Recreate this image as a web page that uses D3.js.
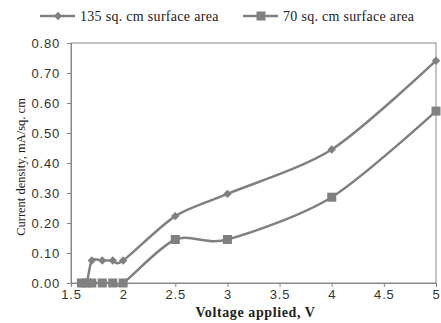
<!DOCTYPE html>
<html>
<head>
<meta charset="utf-8">
<script src="https://cdn.jsdelivr.net/npm/d3@7"></script>
<style>
  body { margin: 0; background: #fff; }
  svg { font-family: "Liberation Serif", "Times New Roman", serif; }
  .axis text { font-size: 13px; fill: #333; letter-spacing: 0.8px; }
  .axis path, .axis line { stroke: #888; }
</style>
</head>
<body>
<svg id="chart" width="441" height="323"></svg>
<script>
// Data
const voltage135 = [1.6, 1.65, 1.7, 1.8, 1.9, 2.0, 2.5, 3, 4, 5];
const current135 = [0, 0, 0.075, 0.075, 0.075, 0.075, 0.223, 0.297, 0.445, 0.741];
const voltage70 = [1.6, 1.65, 1.7, 1.8, 1.9, 2.0, 2.5, 3, 4, 5];
const current70 = [0, 0, 0, 0, 0, 0, 0.145, 0.145, 0.286, 0.573];
const xTicks = [1.5, 2, 2.5, 3, 3.5, 4, 4.5, 5];
const yTicks = [0, 0.1, 0.2, 0.3, 0.4, 0.5, 0.6, 0.7, 0.8];
const seriesNames = ['135 sq. cm surface area', '70 sq. cm surface area'];

const margin = {top: 43, right: 5, bottom: 40, left: 71};
const width = 441 - margin.left - margin.right;
const height = 323 - margin.top - margin.bottom;
const grey = '#808080';

const svg = d3.select('#chart');
const chart = svg.append('g')
    .attr('transform', `translate(${margin.left},${margin.top})`);

const xScale = d3.scaleLinear().domain([1.5, 5]).range([0, width]);
const yScale = d3.scaleLinear().domain([0, 0.8]).range([height, 0]);

// frame
chart.append('rect')
    .attr('width', width).attr('height', height)
    .attr('fill', 'none').attr('stroke', '#888');

chart.append('g')
    .attr('class', 'axis')
    .attr('transform', `translate(0,${height})`)
    .call(d3.axisBottom(xScale).tickValues(xTicks).tickFormat(d3.format('')).tickSizeOuter(0).tickSize(4).tickPadding(3));

chart.append('g')
    .attr('class', 'axis')
    .call(d3.axisLeft(yScale).tickValues(yTicks).tickFormat(d3.format('.2f')).tickSizeOuter(0).tickSize(4).tickPadding(7));

const line = d3.line()
    .x(d => xScale(d[0]))
    .y(d => yScale(d[1]))
    .curve(d3.curveCardinal.tension(0.15));

const data135 = voltage135.map((v, i) => [v, current135[i]]);
const data70 = voltage70.map((v, i) => [v, current70[i]]);

[data135, data70].forEach(data => {
  chart.append('path')
      .datum(data)
      .attr('d', line)
      .attr('fill', 'none')
      .attr('stroke', grey)
      .attr('stroke-width', 2.5);
});

const diamond = d3.symbol().type(d3.symbolDiamond2).size(45);

chart.selectAll('.diamond')
    .data(data135)
  .join('path')
    .attr('class', 'diamond')
    .attr('d', diamond)
    .attr('transform', d => `translate(${xScale(d[0])},${yScale(d[1])})`)
    .attr('fill', grey);

chart.selectAll('.square')
    .data(data70)
  .join('rect')
    .attr('class', 'square')
    .attr('x', d => xScale(d[0]) - 4.5)
    .attr('y', d => yScale(d[1]) - 4.5)
    .attr('width', 9).attr('height', 9)
    .attr('fill', grey);

// axis titles
svg.append('text')
    .attr('x', margin.left + width / 2 + 2)
    .attr('y', 317)
    .attr('text-anchor', 'middle')
    .attr('font-weight', 'bold')
    .attr('font-size', 14)
    .attr('letter-spacing', 0.6)
    .attr('fill', '#222')
    .text('Voltage applied, V');

svg.append('text')
    .attr('transform', `translate(25,${margin.top + height / 2 + 4}) rotate(-90)`)
    .attr('text-anchor', 'middle')
    .attr('font-size', 12.5)
    .attr('fill', '#222')
    .text('Current density, mA/sq. cm');

// legend
const legend = svg.append('g').attr('transform', 'translate(0,16)');
const legendX = [40, 243];
seriesNames.forEach((name, i) => {
  const g = legend.append('g').attr('transform', `translate(${legendX[i]},0)`);
  g.append('line').attr('x1', 0).attr('x2', 35).attr('y1', 0).attr('y2', 0)
      .attr('stroke', grey).attr('stroke-width', 2.5);
  if (i === 0) {
    g.append('path').attr('d', diamond).attr('transform', 'translate(18,0)').attr('fill', grey);
  } else {
    g.append('rect').attr('x', 13.5).attr('y', -4.5).attr('width', 9).attr('height', 9).attr('fill', grey);
  }
  g.append('text').attr('x', 40).attr('y', 4.5).attr('font-size', 14)
      .attr('letter-spacing', 0.3).attr('fill', '#222').text(name);
});
</script>
</body>
</html>
